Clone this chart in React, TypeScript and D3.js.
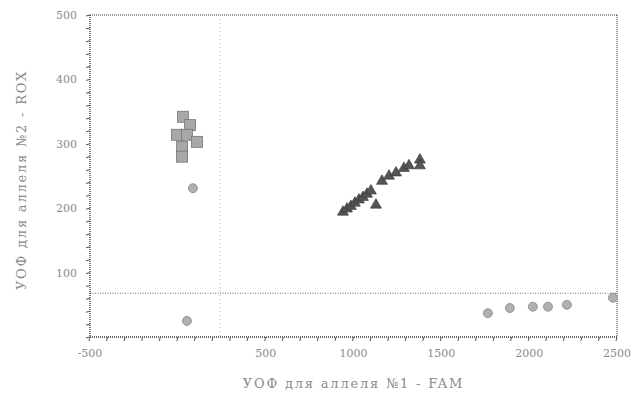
import React from "react";
import * as d3 from "d3";

// readings from the scan: FAM signal (x) vs ROX signal (y)
const squareX = [29, 69, -5, 52, 109, 24, 24];
const squareY = [342, 329, 314, 314, 303, 295, 280];

const triangleX = [940, 963, 985, 1008, 1031, 1054, 1077, 1099, 1128, 1162, 1202, 1242, 1287, 1316, 1378, 1378];
const triangleY = [194, 199, 203, 208, 213, 217, 222, 227, 205, 242, 250, 255, 262, 266, 275, 266];

const circleX = [86, 52, 1765, 1890, 2021, 2107, 2215, 2477];
const circleY = [231, 25, 37, 45, 47, 47, 50, 61];

const xTickLabels = [-500, 500, 1000, 1500, 2000, 2500];
const yTickLabels = [100, 200, 300, 400, 500];

const thresholdFam = 240;
const thresholdRox = 68;

const width = 637;
const height = 403;
const left = 90;
const right = 617;
const top = 15;
const bottom = 337;

export default function App() {
  const x = d3.scaleLinear().domain([-500, 2500]).range([left, right]);
  const y = d3.scaleLinear().domain([0, 500]).range([bottom, top]);

  const xMinor = d3.range(-500, 2501, 100);
  const yMinor = d3.range(0, 501, 20);

  const tri = d3.symbol().type(d3.symbolTriangle).size(52)();
  const axisColor = "#333";
  const textColor = "#8a8a8a";

  return (
    <div style={{ position: "fixed", left: 0, top: 0 }}>
      <svg width={width} height={height} style={{ display: "block", background: "#fff" }}>
        {/* threshold lines */}
        <line x1={x(thresholdFam)} x2={x(thresholdFam)} y1={top + 4} y2={bottom}
          stroke="#bbb" strokeWidth={1} strokeDasharray="1,3" />
        <line x1={left} x2={right} y1={y(thresholdRox)} y2={y(thresholdRox)}
          stroke="#666" strokeWidth={1} strokeDasharray="1,1.5" />

        {/* frame */}
        <line x1={left} x2={right} y1={top} y2={top} stroke={axisColor} strokeDasharray="1,1" />
        <line x1={right} x2={right} y1={top} y2={bottom} stroke={axisColor} strokeDasharray="1,1" />
        <line x1={left} x2={right} y1={bottom} y2={bottom} stroke={axisColor} strokeDasharray="1,1" strokeWidth={1.3} />
        <line x1={left} x2={left} y1={top} y2={bottom} stroke={axisColor} strokeDasharray="1,1" strokeWidth={1.3} />

        {/* minor ticks */}
        {xMinor.map((v) => (
          <line key={"xt" + v} x1={x(v)} x2={x(v) - 1} y1={bottom} y2={bottom + 4} stroke="#555" />
        ))}
        {yMinor.map((v) => (
          <line key={"yt" + v} x1={left} x2={left - 4} y1={y(v)} y2={y(v) + 1} stroke="#555" />
        ))}

        {/* tick labels */}
        {xTickLabels.map((v) => (
          <text key={"xl" + v} x={x(v)} y={bottom + 20} textAnchor="middle"
            fontFamily="DejaVu Serif" fontSize={11} fill={textColor}>{v}</text>
        ))}
        {yTickLabels.map((v) => (
          <text key={"yl" + v} x={left - 13} y={y(v) + 4} textAnchor="end"
            fontFamily="DejaVu Serif" fontSize={11} fill={textColor}>{v}</text>
        ))}

        {/* axis titles */}
        <text x={(left + right) / 2} y={388} textAnchor="middle" fontFamily="DejaVu Serif"
          fontSize={13} letterSpacing={1.8} fill={textColor}>
          УОФ для аллеля №1 - FAM
        </text>
        <text transform={`translate(26,${180}) rotate(-90)`} textAnchor="middle"
          fontFamily="DejaVu Serif" fontSize={13} letterSpacing={1.8} fill={textColor}>
          УОФ для аллеля №2 - ROX
        </text>

        {/* points */}
        {squareX.map((v, i) => (
          <rect key={"s" + i} x={x(v) - 5.5} y={y(squareY[i]) - 5.5} width={11} height={11}
            fill="#a8a8a8" stroke="#777" strokeWidth={0.8} />
        ))}
        {triangleX.map((v, i) => (
          <path key={"t" + i} d={tri} transform={`translate(${x(v)},${y(triangleY[i])})`}
            fill="#555" stroke="#333" strokeWidth={0.6} />
        ))}
        {circleX.map((v, i) => (
          <circle key={"c" + i} cx={x(v)} cy={y(circleY[i])} r={4.5}
            fill="#b0b0b0" stroke="#888" strokeWidth={0.8} />
        ))}
      </svg>
    </div>
  );
}
